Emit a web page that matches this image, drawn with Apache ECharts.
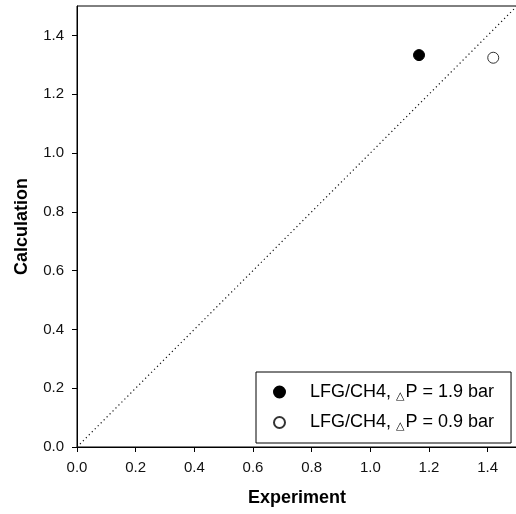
<!DOCTYPE html>
<html>
<head>
<meta charset="utf-8">
<script src="https://cdn.jsdelivr.net/npm/echarts@6/dist/echarts.min.js"></script>
<style>html,body{margin:0;padding:0;background:#fff;}#c{width:516px;height:514px;}</style>
</head>
<body>
<div id="c"></div>
<script>
const tickValues = [0, 0.2, 0.4, 0.6, 0.8, 1.0, 1.2, 1.4];
const seriesNames = ['LFG/CH4, ΔP = 1.9 bar', 'LFG/CH4, ΔP = 0.9 bar'];
const experimentHigh = [1.166];
const calculationHigh = [1.333];
const experimentLow = [1.419];
const calculationLow = [1.324];
const diagonal = [0, 1.5];

const font = 'Liberation Sans, Arial, sans-serif';
const chart = echarts.init(document.getElementById('c'));

function axisCommon(name, nameGap, rotate) {
  return {
    type: 'value', min: 0, max: 1.5,
    name: name, nameLocation: 'middle', nameGap: nameGap, nameRotate: rotate,
    nameTextStyle: { fontFamily: font, fontSize: 18, fontWeight: 'bold', color: '#000' },
    axisLine: { show: true, lineStyle: { color: '#000', width: 1 } },
    axisTick: { show: true, inside: false, length: 5, lineStyle: { color: '#000' }, customValues: tickValues },
    axisLabel: { fontFamily: font, fontSize: 15, color: '#111', margin: 13, customValues: tickValues,
      formatter: v => v.toFixed(1) },
    splitLine: { show: false }
  };
}

chart.setOption({
  animation: false,
  backgroundColor: '#fff',
  grid: { left: 77, top: 6, width: 440, height: 441, show: true, borderColor: '#000', borderWidth: 1, containLabel: false, outerBoundsMode: 'none' },
  xAxis: axisCommon('Experiment', 42, 0),
  yAxis: axisCommon('Calculation', 46, 90),
  legend: {
    orient: 'vertical', left: 256, top: 372,
    padding: [11, 17, 11, 17],
    itemGap: 12, itemWidth: 11, itemHeight: 11,
    borderColor: '#000', borderWidth: 1, backgroundColor: '#fff', borderRadius: 0,
    data: [
      { name: seriesNames[0], icon: 'circle' },
      { name: seriesNames[1], icon: 'circle' }
    ],
    formatter: n => n.replace('Δ', '{t|△}'),
    textStyle: { fontFamily: font, fontSize: 18, color: '#000', padding: [0, 0, 0, 20],
      rich: { t: { fontFamily: 'DejaVu Sans', fontSize: 11, color: '#000', padding: [8, 1, 0, 0] } } }
  },
  series: [
    { type: 'line', data: diagonal.map(v => [v, v]), showSymbol: false, symbol: 'none',
      lineStyle: { color: '#111', width: 1.2, type: [1.2, 3] }, silent: true },
    { name: seriesNames[0], type: 'scatter', symbol: 'circle', symbolSize: 11,
      data: experimentHigh.map((x, i) => [x, calculationHigh[i]]),
      itemStyle: { color: '#000', borderColor: '#000', borderWidth: 1, opacity: 1 } },
    { name: seriesNames[1], type: 'scatter', symbol: 'circle', symbolSize: 11,
      data: experimentLow.map((x, i) => [x, calculationLow[i]]),
      itemStyle: { color: '#fff', borderColor: '#333', borderWidth: 1, opacity: 1 } }
  ]
});
</script>
</body>
</html>
